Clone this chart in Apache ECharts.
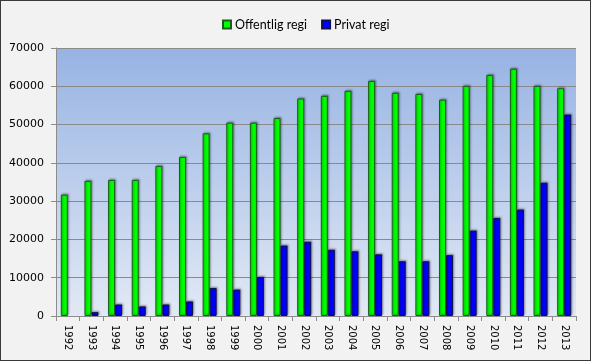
<!DOCTYPE html>
<html>
<head>
<meta charset="utf-8">
<script src="https://cdn.jsdelivr.net/npm/echarts@6/dist/echarts.min.js"></script>
<style>
html,body{margin:0;padding:0;background:#f2f2f2;}
#c{width:589px;height:359px;border:1px solid #3a3a3a;}
</style>
</head>
<body>
<div id="c"></div>
<script>
const years = ['1992','1993','1994','1995','1996','1997','1998','1999','2000','2001','2002','2003','2004','2005','2006','2007','2008','2009','2010','2011','2012','2013'];
const offentlig = [31700,35300,35550,35550,39200,41550,47700,50500,50500,51700,56800,57500,58800,61400,58300,58000,56500,60100,62950,64600,60100,59500];
const privat = [null,1000,3000,2500,3000,3800,7300,6900,10200,18400,19400,17300,16900,16100,14300,14300,15900,22300,25600,27800,34800,52600];
const yTicks = [0,10000,20000,30000,40000,50000,60000,70000];

const chart = echarts.init(document.getElementById('c'), null, {renderer:'canvas'});
const font = 'Lato, "Open Sans", sans-serif';
const axFont = '"DejaVu Sans", Verdana, sans-serif';
chart.setOption({
  backgroundColor:'#f2f2f2',
  animation:false,
  textStyle:{fontFamily:font},
  legend:{
    top:12, left:216, itemWidth:8, itemHeight:8, itemGap:14,
    icon:'rect',
    textStyle:{fontSize:12.5, color:'#000', fontFamily:font, padding:[0,0,0,-1]},
    data:['Offentlig regi','Privat regi']
  },
  grid:{left:55, right:14, top:47, bottom:44, show:true,
    backgroundColor: new echarts.graphic.LinearGradient(0,0,0,1,[{offset:0,color:'#97b3e3'},{offset:1,color:'#e2e9f5'}]),
    borderColor:'#555', borderWidth:0},
  xAxis:{
    type:'category', data:years,
    axisLine:{lineStyle:{color:'#8c8c8c'}},
    axisTick:{show:true, alignWithLabel:false, length:5, lineStyle:{color:'#8c8c8c'}},
    axisLabel:{rotate:-90, fontSize:10, color:'#000', margin:9, fontFamily:axFont}
  },
  yAxis:{
    type:'value', min:0, max:70000, interval:10000,
    axisLine:{show:true, lineStyle:{color:'#8c8c8c'}},
    axisTick:{show:true, length:5, lineStyle:{color:'#8c8c8c'}},
    axisLabel:{fontSize:11, color:'#000', margin:12, fontFamily:axFont,
      formatter:function(v){return yTicks.indexOf(v)>=0?String(v):'';}},
    splitLine:{lineStyle:{color:'#8a8a8a', width:1}}
  },
  series:[
    {name:'Offentlig regi', type:'bar', data:offentlig, barWidth:7, barGap:'0%',
      itemStyle:{color:'#00ff00', borderColor:'#1b5e1b', borderWidth:1,
        shadowColor:'rgba(0,0,0,0.35)', shadowBlur:2, shadowOffsetX:1, shadowOffsetY:-1}},
    {name:'Privat regi', type:'bar', data:privat, barWidth:7,
      itemStyle:{color:'#0000ff', borderColor:'#10104a', borderWidth:1,
        shadowColor:'rgba(0,0,0,0.35)', shadowBlur:2, shadowOffsetX:1, shadowOffsetY:-1}}
  ]
});
</script>
</body>
</html>
